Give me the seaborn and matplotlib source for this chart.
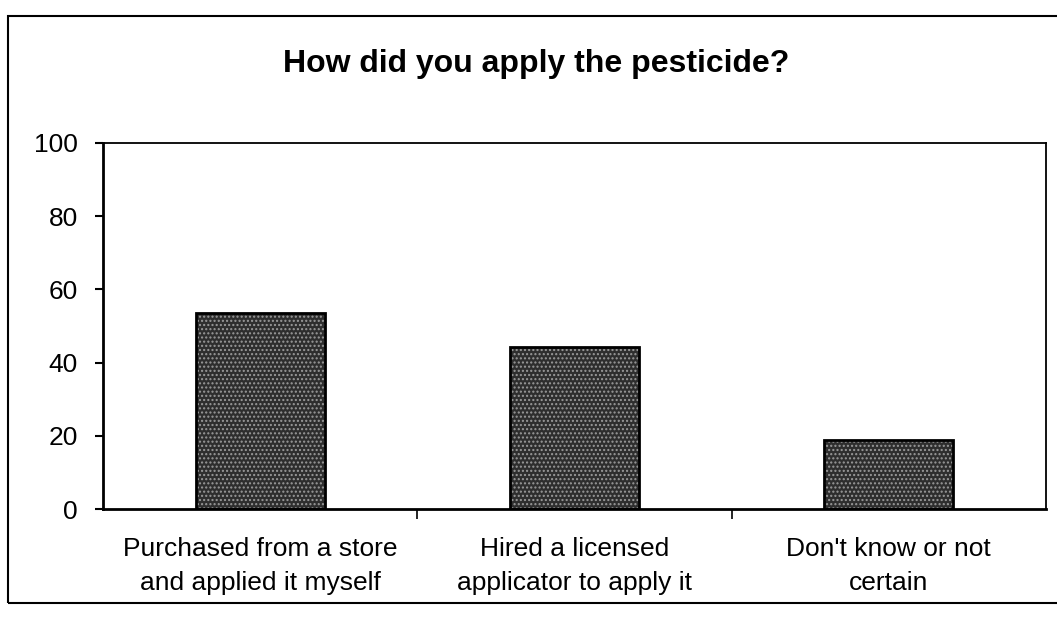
import numpy as np
import pandas as pd
import seaborn as sns
from matplotlib import pyplot as plt
from matplotlib.patches import Rectangle

categories = ['Purchased from a store\nand applied it myself',
              'Hired a licensed\napplicator to apply it',
              "Don't know or not\ncertain"]
percent = [53.5, 44.3, 18.8]
y_ticks = [0, 20, 40, 60, 80, 100]

df = pd.DataFrame({'answer': categories, 'percent': percent})

sns.set_theme(style='white')
plt.rcParams['font.family'] = ['Liberation Sans', 'DejaVu Sans']
plt.rcParams['text.color'] = 'black'
plt.rcParams['xtick.labelcolor'] = 'black'
plt.rcParams['ytick.labelcolor'] = 'black'
plt.rcParams['xtick.color'] = 'black'
plt.rcParams['ytick.color'] = 'black'

fig = plt.figure(figsize=(10.57, 6.31), dpi=100)
ax = fig.add_axes([0.0974, 0.1933, 0.8922, 0.5801])

# speckled fill, then a black outline on top
sns.barplot(data=df, x='answer', y='percent', color='#2e2e2e', width=0.41,
            saturation=1, edgecolor='#9a9a9a', linewidth=0, hatch='....', ax=ax)
sns.barplot(data=df, x='answer', y='percent', width=0.41, fill=False,
            edgecolor='black', linewidth=2, ax=ax)

ax.set_ylim(0, 100)
ax.set_xlim(-0.5, 2.5)
ax.set_yticks(y_ticks)
ax.set_xlabel('')
ax.set_ylabel('')
ax.tick_params(axis='y', labelsize=19, length=6, width=1.5, direction='out', pad=12, left=True,
               colors='black')
ax.tick_params(axis='x', labelsize=19, length=0, pad=20, colors='black')
ax.set_xticks([0.5, 1.5], minor=True)
ax.tick_params(axis='x', which='minor', length=7, width=1.2, direction='out', bottom=True)
for lbl in ax.get_xticklabels():
    lbl.set_linespacing(1.55)

for side in ['left', 'bottom']:
    ax.spines[side].set_linewidth(2)
    ax.spines[side].set_color('black')
for side in ['top', 'right']:
    ax.spines[side].set_linewidth(1.3)
    ax.spines[side].set_color('black')

fig.text(0.507, 0.898, 'How did you apply the pesticide?', ha='center', va='center',
         fontsize=23, fontweight='bold', color='black')

# outer chart frame (right edge runs past the image)
fig.add_artist(Rectangle((8 / 1057, 1 - 603 / 631), 1.1, (603 - 16) / 631,
                         transform=fig.transFigure, fill=False, edgecolor='black',
                         linewidth=1.5))

fig.savefig('out.png', dpi=100)
